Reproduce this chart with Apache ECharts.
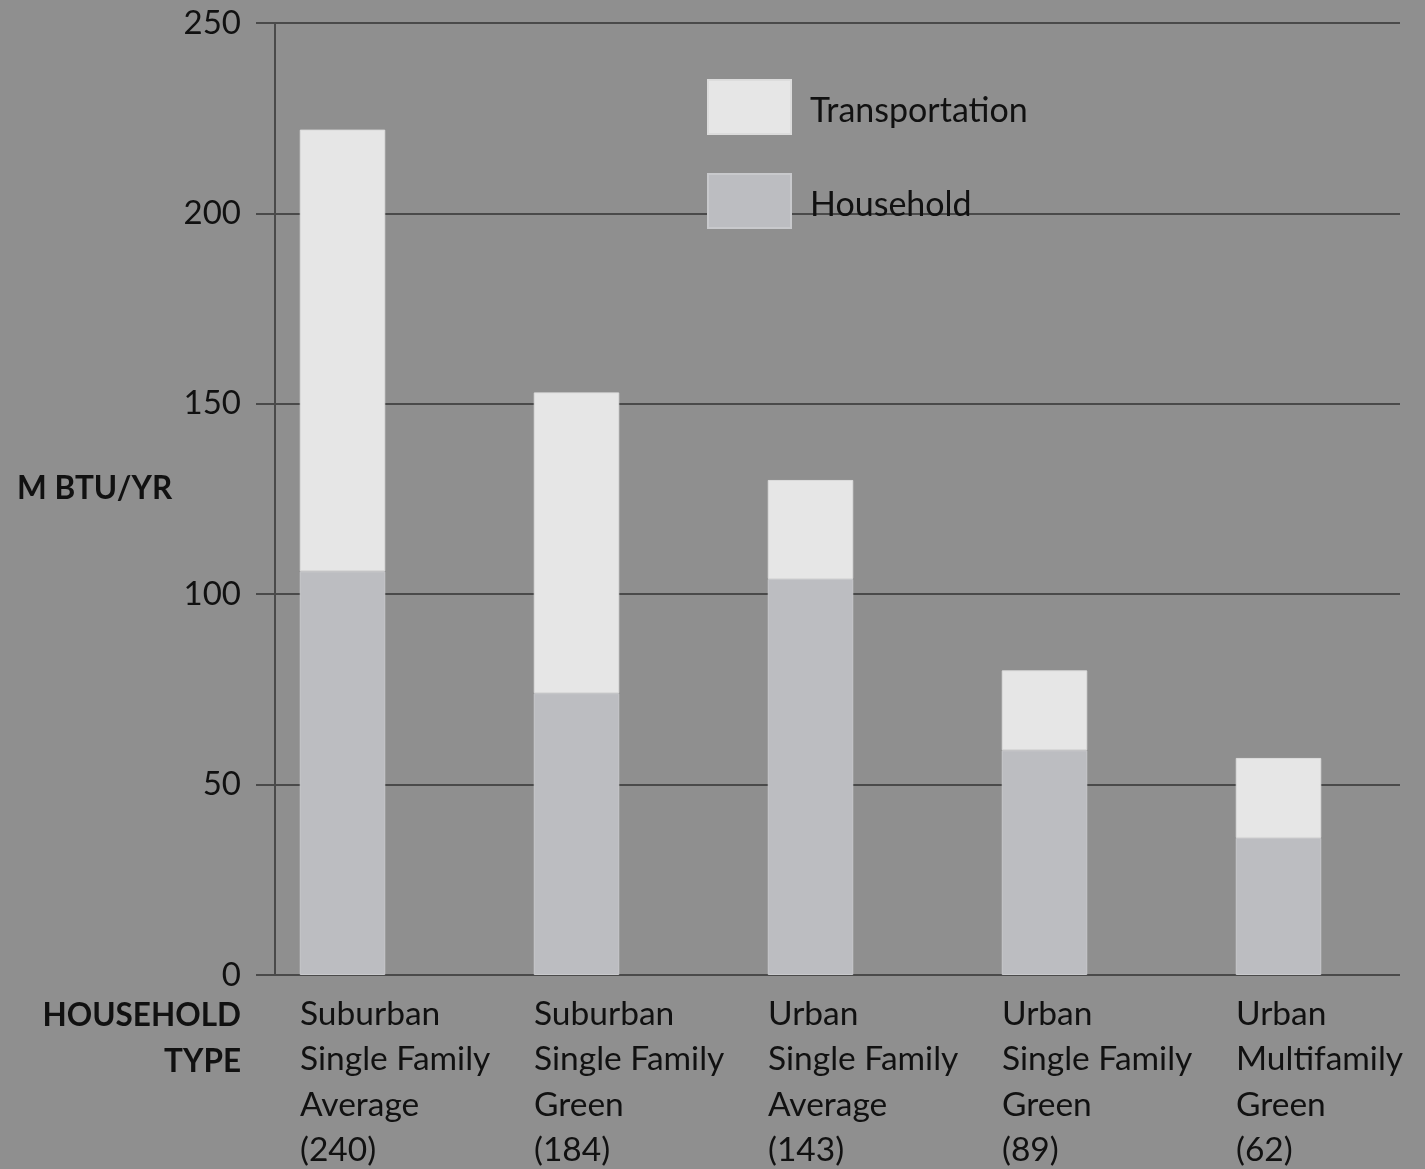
<!DOCTYPE html>
<html>
<head>
<meta charset="utf-8">
<script src="https://cdn.jsdelivr.net/npm/echarts@6/dist/echarts.min.js"></script>
<style>
  html, body { margin: 0; padding: 0; background: #8f8f8f; }
  #chart { width: 1425px; height: 1169px; }
</style>
</head>
<body>
<div id="chart"></div>
<script>
// Energy use per household type (M BTU/YR)
const categories = [
  'Suburban\nSingle Family\nAverage\n(240)',
  'Suburban\nSingle Family\nGreen\n(184)',
  'Urban\nSingle Family\nAverage\n(143)',
  'Urban\nSingle Family\nGreen\n(89)',
  'Urban\nMultifamily\nGreen\n(62)'
];
const household = [106, 74, 104, 59, 36];
const transportation = [116, 79, 26, 21, 21];
const yTicks = [0, 50, 100, 150, 200, 250];

const FONT = 'Lato';
const INK = '#111111';
const LINE = '#4a4a4a';

const chart = echarts.init(document.getElementById('chart'));

const gridTop = 23, gridBottom = 194;
const gridBase = { top: gridTop, bottom: gridBottom, outerBoundsMode: 'none', containLabel: false };

chart.setOption({
  backgroundColor: '#8f8f8f',
  animation: false,
  textStyle: { fontFamily: FONT },
  legend: {
    orient: 'vertical',
    left: 707,
    top: 79,
    padding: 0,
    itemWidth: 83,
    itemHeight: 54,
    itemGap: 38,
    icon: 'rect',
    data: ['Transportation', 'Household'],
    formatter: name => '{t|' + name + '}',
    textStyle: {
      fontFamily: FONT, fontSize: 34, color: INK, padding: [0, 0, 0, 14],
      rich: { t: { fontFamily: FONT, fontSize: 34, color: INK, padding: [8, 0, 0, 0] } }
    }
  },
  grid: [
    Object.assign({ left: 275, right: 25 }, gridBase),
    Object.assign({ left: 225.5, right: 29.5 }, gridBase),
    Object.assign({ left: 300, right: 189 }, gridBase)
  ],
  xAxis: [
    { gridIndex: 0, type: 'category', data: categories, show: false },
    { gridIndex: 1, type: 'category', data: categories, show: false },
    {
      gridIndex: 2, type: 'category', data: categories, boundaryGap: false,
      axisLine: { show: false }, axisTick: { show: false }, splitLine: { show: false },
      axisLabel: {
        interval: 0, align: 'left', margin: 16,
        fontFamily: FONT, fontSize: 33.5, lineHeight: 45.5, color: INK
      }
    }
  ],
  yAxis: [
    {
      gridIndex: 0, type: 'value', min: yTicks[0], max: yTicks[yTicks.length - 1], interval: 50,
      axisLine: { show: true, lineStyle: { color: LINE, width: 2 } },
      axisTick: { show: true, length: 19, lineStyle: { color: LINE, width: 2 } },
      splitLine: { show: true, lineStyle: { color: LINE, width: 2 } },
      axisLabel: { margin: 34, fontFamily: FONT, fontSize: 33, color: INK }
    },
    { gridIndex: 1, type: 'value', min: 0, max: 250, show: false, splitLine: { show: false } },
    { gridIndex: 2, type: 'value', min: 0, max: 250, show: false, splitLine: { show: false } }
  ],
  graphic: [
    {
      type: 'text', x: 17, y: 473,
      style: { text: 'M BTU/YR', font: 'bold 31.5px ' + FONT, fill: INK }
    },
    {
      type: 'text', x: 241, y: 1000,
      style: { text: 'HOUSEHOLD', font: 'bold 31.5px ' + FONT, fill: INK, align: 'right' }
    },
    {
      type: 'text', x: 241, y: 1045.5,
      style: { text: 'TYPE', font: 'bold 31.5px ' + FONT, fill: INK, align: 'right' }
    }
  ],
  series: [
    {
      name: 'Household', type: 'bar', stack: 'total',
      xAxisIndex: 1, yAxisIndex: 1, barWidth: 85.5,
      data: household,
      itemStyle: { color: '#bcbdc1', borderColor: '#c8c9cc', borderWidth: 1 }
    },
    {
      name: 'Transportation', type: 'bar', stack: 'total',
      xAxisIndex: 1, yAxisIndex: 1, barWidth: 85.5,
      data: transportation,
      itemStyle: { color: '#e6e6e6', borderColor: '#dcdcdc', borderWidth: 1 }
    }
  ]
});
</script>
</body>
</html>
